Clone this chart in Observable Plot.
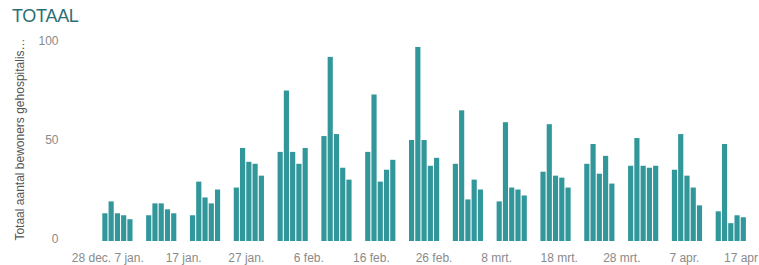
<!DOCTYPE html>
<html>
<head>
<meta charset="utf-8">
<script src="https://cdn.jsdelivr.net/npm/d3@7"></script>
<script src="https://cdn.jsdelivr.net/npm/@observablehq/plot@0.6"></script>
<style>
  html, body { margin: 0; padding: 0; background: #fff; overflow: hidden; }
  #title { height: 30px; box-sizing: border-box; padding: 6px 0 0 12px; font-family: "Liberation Sans", Arial, sans-serif; font-size: 18px; color: #2a6f78; letter-spacing: -0.3px; line-height: 20px; }
  #chart svg { display: block; }
</style>
</head>
<body>
<div id="title">TOTAAL</div>
<div id="chart"></div>
<script>
const dates = [
  "2021-01-04","2021-01-05","2021-01-06","2021-01-07","2021-01-08",
  "2021-01-11","2021-01-12","2021-01-13","2021-01-14","2021-01-15",
  "2021-01-18","2021-01-19","2021-01-20","2021-01-21","2021-01-22",
  "2021-01-25","2021-01-26","2021-01-27","2021-01-28","2021-01-29",
  "2021-02-01","2021-02-02","2021-02-03","2021-02-04","2021-02-05",
  "2021-02-08","2021-02-09","2021-02-10","2021-02-11","2021-02-12",
  "2021-02-15","2021-02-16","2021-02-17","2021-02-18","2021-02-19",
  "2021-02-22","2021-02-23","2021-02-24","2021-02-25","2021-02-26",
  "2021-03-01","2021-03-02","2021-03-03","2021-03-04","2021-03-05",
  "2021-03-08","2021-03-09","2021-03-10","2021-03-11","2021-03-12",
  "2021-03-15","2021-03-16","2021-03-17","2021-03-18","2021-03-19",
  "2021-03-22","2021-03-23","2021-03-24","2021-03-25","2021-03-26",
  "2021-03-29","2021-03-30","2021-03-31","2021-04-01","2021-04-02",
  "2021-04-05","2021-04-06","2021-04-07","2021-04-08","2021-04-09",
  "2021-04-12","2021-04-13","2021-04-14","2021-04-15","2021-04-16"
];
const values = [
  14, 20, 14, 13, 11,
  13, 19, 19, 16, 14,
  13, 30, 22, 19, 26,
  27, 47, 40, 39, 33,
  45, 76, 45, 39, 47,
  53, 93, 54, 37, 31,
  45, 74, 30, 36, 41,
  51, 98, 51, 38, 42,
  39, 66, 21, 31, 26,
  20, 60, 27, 26, 23,
  35, 59, 33, 32, 27,
  39, 49, 34, 43, 29,
  38, 52, 38, 37, 38,
  36, 54, 33, 27, 18,
  15, 49, 9, 13, 12
];
const tickDates = ["2020-12-28","2021-01-07","2021-01-17","2021-01-27","2021-02-06","2021-02-16","2021-02-26","2021-03-08","2021-03-18","2021-03-28","2021-04-07","2021-04-17"];
const tickLabels = ["28 dec.","7 jan.","17 jan.","27 jan.","6 feb.","16 feb.","26 feb.","8 mrt.","18 mrt.","28 mrt.","7 apr.","17 apr"];
const yTicks = [0, 50, 100];
const yLabel = "Totaal aantal bewoners gehospitalis…";
const xDomain = ["2020-12-28", "2021-04-19"];

const data = dates.map((d, i) => ({date: new Date(d), value: values[i]}));
const ticks = tickDates.map((d, i) => ({date: new Date(d), label: tickLabels[i]}));
const firstTicks = ticks.slice(0, 1);
const secondTicks = ticks.slice(1, 2);
const midTicks = ticks.slice(2, -1);
const lastTicks = ticks.slice(-1);

const font = "Liberation Sans, Arial, sans-serif";
const tickStyle = {x: "date", text: "label", frameAnchor: "bottom", dy: 17, lineAnchor: "middle", fill: "#8a8a8a", fontSize: 12};
const chart = Plot.plot({
  width: 759,
  height: 235,
  marginLeft: 58,
  marginRight: 0,
  marginTop: 13,
  marginBottom: 24,
  style: {fontFamily: font, fontSize: "12px", background: "#fff"},
  x: {type: "utc", domain: xDomain.map(d => new Date(d)), axis: null},
  y: {domain: [0, 100], axis: null},
  marks: [
    Plot.rect(data, {
      x1: "date",
      x2: d => d3.utcDay.offset(d.date, 1),
      y1: 0,
      y2: "value",
      fill: "#31979a",
      insetLeft: 0.5,
      insetRight: 0.6
    }),
    Plot.axisY(yTicks, {tickSize: 0, tickPadding: 0, label: null, fill: "#8a8a8a", fontSize: 12, textAnchor: "end", dy: -2}),
    Plot.text(firstTicks, {...tickStyle, dx: 33}),
    Plot.text(secondTicks, {...tickStyle, dx: 8}),
    Plot.text(midTicks, tickStyle),
    Plot.text(lastTicks, {...tickStyle, dx: -6}),
    Plot.text([yLabel], {frameAnchor: "left", rotate: -90, textAnchor: "middle", dx: -38, dy: -3, fill: "#555", fontSize: 12})
  ]
});
document.getElementById("chart").appendChild(chart);
</script>
</body>
</html>
